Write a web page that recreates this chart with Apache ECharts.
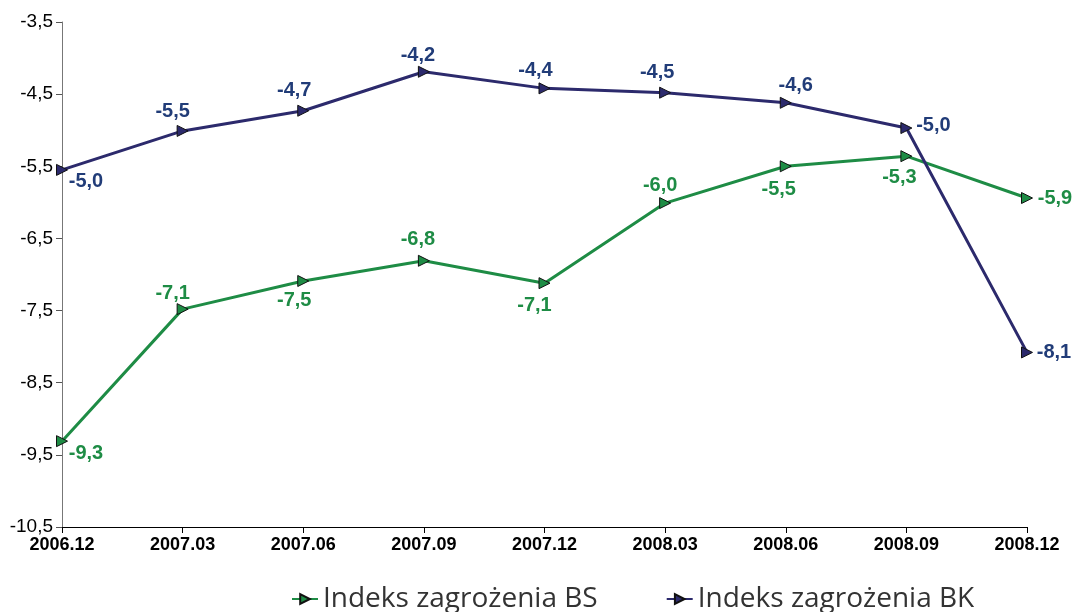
<!DOCTYPE html>
<html>
<head>
<meta charset="utf-8">
<script src="https://cdn.jsdelivr.net/npm/echarts@6/dist/echarts.min.js"></script>
<style>
    html, body { margin: 0; padding: 0; background: #fff; }
    #chart { width: 1075px; height: 612px; }
</style>
</head>
<body>
<div id="chart"></div>
<script>
    // dane z wykresu
    var quarters = ['2006.12', '2007.03', '2007.06', '2007.09', '2007.12', '2008.03', '2008.06', '2008.09', '2008.12'];
    var bsValues = [-9.31, -7.48, -7.09, -6.81, -7.12, -6.01, -5.50, -5.36, -5.94];
    var bkValues = [-5.55, -5.01, -4.73, -4.19, -4.42, -4.48, -4.62, -4.97, -8.08];
    // etykiety tak jak na oryginale (nie zawsze zgodne z punktem)
    var bsLabels = ['-9,3', '-7,1', '-7,5', '-6,8', '-7,1', '-6,0', '-5,5', '-5,3', '-5,9'];
    var bkLabels = ['-5,0', '-5,5', '-4,7', '-4,2', '-4,4', '-4,5', '-4,6', '-5,0', '-8,1'];
    var yTicks = ['-10,5', '-9,5', '-8,5', '-7,5', '-6,5', '-5,5', '-4,5', '-3,5'];

    // przesuniecia etykiet wzgledem punktu
    var bsOffsets = [[24, 12], [-10, -16], [-9, 19], [-6, -21], [-10, 22], [-5, -18], [-7, 23], [-7, 21], [28, 0]];
    var bkOffsets = [[24, 12], [-10, -19], [-9, -20], [-6, -16], [-9, -18], [-8, -20], [10, -17], [27, -3], [27, 0]];

    var chart = echarts.init(document.getElementById('chart'), null, { renderer: 'canvas' });

    function buildData(values, labels, offsets, color) {
        var out = [];
        for (var i = 0; i < values.length; i++) {
            out.push({
                value: values[i],
                label: {
                    show: true,
                    position: 'inside',
                    offset: offsets[i],
                    formatter: labels[i],
                    color: color,
                    fontFamily: 'Liberation Sans, Arial',
                    fontWeight: 'bold',
                    fontSize: 20
                }
            });
        }
        return out;
    }

    function yLabel(v) {
        var idx = Math.round(v + 10.5);
        return yTicks[idx] !== undefined ? yTicks[idx] : '';
    }

    var option = {
        animation: false,
        grid: { left: 62, right: 48, top: 22, bottom: 85, containLabel: false },
        legend: {
            left: 286,
            top: 580,
            itemGap: 68,
            itemWidth: 26,
            itemHeight: 12,
            symbolRotate: 'inherit',
            textStyle: { fontFamily: 'Open Sans', fontSize: 28, color: '#333' },
            data: ['Indeks zagrożenia BS', 'Indeks zagrożenia BK']
        },
        xAxis: {
            type: 'category',
            boundaryGap: false,
            data: quarters,
            axisLine: { lineStyle: { color: '#000', width: 1 } },
            axisTick: { show: true, length: 6, lineStyle: { color: '#000' } },
            axisLabel: { color: '#000', fontFamily: 'Liberation Sans, Arial', fontWeight: 'bold', fontSize: 18, margin: 9 }
        },
        yAxis: {
            type: 'value',
            min: -10.5,
            max: -3.5,
            interval: 1,
            splitLine: { show: false },
            axisLine: { show: true, lineStyle: { color: '#777', width: 1 } },
            axisTick: { show: true, length: 6, lineStyle: { color: '#555' } },
            axisLabel: { color: '#000', fontFamily: 'Liberation Sans, Arial', fontSize: 19, margin: 9, formatter: yLabel }
        },
        series: [
            {
                name: 'Indeks zagrożenia BS',
                type: 'line',
                data: buildData(bsValues, bsLabels, bsOffsets, '#1e8c45'),
                symbol: 'triangle',
                symbolRotate: -90,
                symbolSize: 11,
                lineStyle: { color: '#1e8c45', width: 3 },
                itemStyle: { color: '#1e8c45', borderColor: '#111', borderWidth: 1 },
                z: 2
            },
            {
                name: 'Indeks zagrożenia BK',
                type: 'line',
                data: buildData(bkValues, bkLabels, bkOffsets, '#213c78'),
                symbol: 'triangle',
                symbolRotate: -90,
                symbolSize: 11,
                lineStyle: { color: '#2c2a6c', width: 3 },
                itemStyle: { color: '#2c2a6c', borderColor: '#111', borderWidth: 1 },
                z: 3
            }
        ]
    };

    chart.setOption(option);
</script>
</body>
</html>
